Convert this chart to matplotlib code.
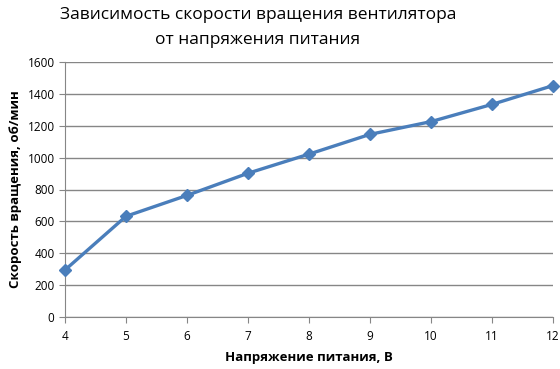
import matplotlib
matplotlib.use("Agg")
import matplotlib.pyplot as plt

plt.rcParams['font.family'] = ['Open Sans', 'DejaVu Sans']

voltage = [4, 5, 6, 7, 8, 9, 10, 11, 12]
speed = [295, 632, 763, 902, 1022, 1146, 1226, 1334, 1452]
y_ticks = [0, 200, 400, 600, 800, 1000, 1200, 1400, 1600]

my_dpi = 100
fig = plt.figure(figsize=(560 / my_dpi, 369 / my_dpi), dpi=my_dpi)
ax = fig.add_axes([65 / 560, 1 - 317 / 369, 488 / 560, 255 / 369])

ax.plot(voltage, speed, color='#4a7ebb', linewidth=2.4, marker='D', markersize=6.5,
        markerfacecolor='#4a7ebb', markeredgecolor='#4a7ebb', zorder=3, clip_on=False)

ax.set_xlim(4, 12)
ax.set_ylim(0, 1600)
ax.set_xticks(voltage)
ax.set_yticks(y_ticks)
ax.grid(axis='y', color='#868686', linewidth=1)
ax.set_axisbelow(True)
for s in ['top', 'right']:
    ax.spines[s].set_visible(False)
for s in ['left', 'bottom']:
    ax.spines[s].set_color('#868686')
ax.tick_params(axis='both', colors='#868686', labelcolor='black', labelsize=8.5, length=4, direction='out')
ax.tick_params(axis='x', pad=5)

ax.set_xlabel('Напряжение питания, В', fontsize=9.5, fontweight='bold', labelpad=6)
ax.set_ylabel('Скорость вращения, об/мин', fontsize=9.5, fontweight='bold', labelpad=4)
fig.text(258 / 560, 0.982, 'Зависимость скорости вращения вентилятора\nот напряжения питания',
         ha='center', va='top', fontsize=12.5, linespacing=1.8)

plt.savefig('out.png', dpi=my_dpi)
